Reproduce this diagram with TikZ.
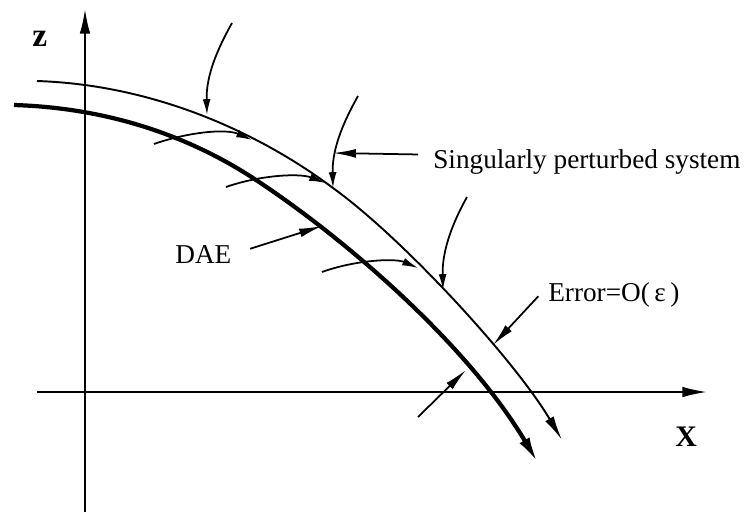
\documentclass[tikz,border=0pt]{standalone}
\usepackage{fontspec}
\setmainfont{Liberation Serif}
\usetikzlibrary{arrows.meta}

\begin{document}
\begin{tikzpicture}[x=0.02cm, y=-0.02cm,
  axis/.style={line width=1.1pt, -{Latex[length=14pt,width=6pt]}},
  daecurve/.style={line width=2.4pt, -{Latex[length=15pt,width=6.5pt]}},
  spcurve/.style={line width=1.1pt, -{Latex[length=14pt,width=5.5pt]}},
  ann/.style={line width=1pt, -{Latex[length=13pt,width=5pt]}},
  annsm/.style={line width=1pt, -{Latex[length=9pt,width=4.5pt]}},
  lbl/.style={font=\fontsize{15.5}{18}\selectfont, inner sep=0pt},
]
  \useasboundingbox (0,0) rectangle (752,512);

  % axes
  \coordinate (zbot) at (85,512);
  \coordinate (ztop) at (85,9);
  \coordinate (xleft) at (37,392);
  \coordinate (xright) at (707,392);
  \draw[axis] (zbot) -- (ztop);
  \draw[axis] (xleft) -- (xright);
  \node[lbl, anchor=base west, font=\fontsize{19}{20}\selectfont\bfseries] (zlab) at (32,46) {z};
  \node[lbl, anchor=base west, font=\fontsize{17}{20}\selectfont\bfseries] (xlab) at (675,446) {X};

  % DAE (thick) and singularly perturbed system (thin)
  \coordinate (dstart) at (14,105);
  \coordinate (dmid) at (253,178);
  \coordinate (dend) at (538,463);
  \coordinate (sstart) at (37,81);
  \coordinate (smid) at (333,188);
  \coordinate (send) at (562,440);
  \draw[daecurve] (dstart) .. controls (110,108) and (190,137) .. (dmid)
    .. controls (345,238) and (468,345) .. (dend);
  \draw[spcurve] (sstart) .. controls (160,85) and (265,137) .. (smid)
    .. controls (405,240) and (516,362) .. (send);

  % points on the curves
  \coordinate (s1) at (207,115);
  \coordinate (s3) at (443,290);
  \coordinate (s4) at (493,345);
  \coordinate (t1) at (252,140);
  \coordinate (t2) at (325,183);
  \coordinate (t3) at (418,268);
  \coordinate (d1) at (322,226);
  \coordinate (d2) at (466,370);

  % free ends
  \coordinate (a1) at (232,23);
  \coordinate (a2) at (358,96);
  \coordinate (a3) at (467,197);
  \coordinate (b1) at (154,144);
  \coordinate (b2) at (226,187);
  \coordinate (b3) at (322,272);
  \coordinate (c1) at (418,417);

  % labels
  \node[lbl, anchor=base west] (sps) at (433,168) {Singularly perturbed system};
  \node[lbl, anchor=base west] (dae) at (175,263) {DAE};
  \node[lbl, anchor=base west] (err) at (548,301) {Error=O(\,ε\,)};

  % arrows
  \draw[annsm] (a1) .. controls (218,48) and (206,75) .. (s1);
  \draw[annsm] (a2) .. controls (344,121) and (332,148) .. (smid);
  \draw[annsm] (a3) .. controls (453,222) and (442,250) .. (s3);
  \draw[annsm] (b1) .. controls (185,133) and (225,128) .. (t1);
  \draw[annsm] (b2) .. controls (260,175) and (300,173) .. (t2);
  \draw[annsm] (b3) .. controls (355,260) and (395,258) .. (t3);
  \draw[ann] ([xshift=-8.5pt,yshift=4pt]sps.west) -- (smid |- 0,153);
  \draw[ann] ([xshift=10.5pt,yshift=3pt]dae.east) -- (d1);
  \draw[ann] ([xshift=-5.5pt,yshift=-1pt]err.west) -- (s4);
  \draw[ann] (c1) -- (d2);

\end{tikzpicture}
\end{document}
